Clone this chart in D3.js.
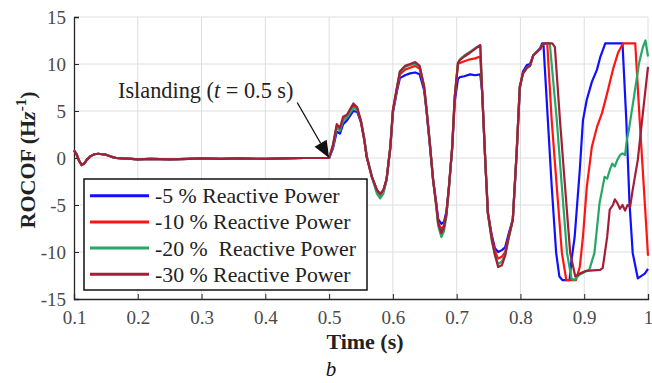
<!DOCTYPE html>
<html>
<head>
<meta charset="utf-8">
<script src="https://cdn.jsdelivr.net/npm/d3@7"></script>
<style>
  body { margin: 0; background: #fff; }
  svg text { font-family: "Liberation Serif", "Times New Roman", serif; }
</style>
</head>
<body>
<svg id="grafico" width="652" height="383"></svg>
<script>
// tiempo antes de la isla (igual en las 4 curvas)
const tPre = [0.100, 0.104, 0.108, 0.112, 0.116, 0.120, 0.126, 0.132, 0.138, 0.144, 0.150, 0.158, 0.166, 0.175,
  0.190, 0.200, 0.220, 0.250, 0.280, 0.300, 0.330, 0.360, 0.400, 0.430, 0.460, 0.480, 0.500];
const vPre = [0.8, 0.4, -0.3, -0.75, -0.6, -0.2, 0.2, 0.4, 0.45, 0.4, 0.35, 0.15, 0.0, -0.05,
  -0.1, -0.15, -0.1, -0.15, -0.1, -0.05, -0.1, -0.05, -0.1, -0.05, 0.0, 0.0, 0.0];

// oscilaciones despues de la isla
const tMid = [0.506, 0.512, 0.517, 0.522, 0.528, 0.533, 0.538, 0.544, 0.550, 0.555, 0.559, 0.567, 0.575, 0.580,
  0.585, 0.590, 0.596, 0.600, 0.606, 0.611, 0.619, 0.627, 0.635, 0.642, 0.649, 0.653, 0.658, 0.663, 0.668,
  0.671, 0.676, 0.680, 0.684, 0.688, 0.693, 0.697, 0.702, 0.705, 0.712, 0.721, 0.729, 0.737, 0.740, 0.745,
  0.749, 0.755, 0.760, 0.765, 0.771, 0.776, 0.781, 0.788, 0.794, 0.799, 0.804, 0.810, 0.815, 0.820, 0.826,
  0.831, 0.834];
const mid5 = [1.0, 2.8, 2.6, 3.6, 4.0, 4.5, 5.0, 4.9, 3.8, 2.0, 0.1, -2.0, -3.5, -3.9,
  -3.5, -2.3, 1.0, 4.8, 7.0, 8.5, 8.8, 9.0, 9.1, 8.9, 7.2, 4.8, 1.3, -2.3, -4.8,
  -6.5, -7.0, -6.8, -5.7, -3.0, 1.0, 6.0, 8.4, 8.6, 8.7, 8.9, 8.8, 8.9, 7.0, -0.5,
  -5.8, -8.2, -9.6, -10.0, -9.8, -9.5, -8.2, -6.5, 0.5, 7.4, 9.2, 9.9, 10.0, 10.9, 11.3,
  11.7, 12.2];
const mid10 = [1.3, 3.4, 3.0, 4.0, 4.5, 5.0, 5.6, 5.2, 3.8, 2.0, 0.1, -2.0, -3.4, -3.9,
  -3.5, -2.3, 1.2, 5.0, 7.2, 8.9, 9.4, 9.6, 9.8, 9.5, 7.5, 5.0, 1.5, -2.3, -5.0,
  -6.9, -7.6, -7.2, -5.9, -3.0, 1.2, 6.5, 10.0, 10.1, 10.3, 10.5, 10.6, 10.8, 7.0, -0.5,
  -5.9, -8.4, -9.9, -10.7, -10.5, -10.0, -8.5, -6.6, 0.5, 7.6, 9.0, 9.6, 9.8, 10.9, 11.3,
  11.6, 12.0];
const mid20 = [1.2, 3.3, 2.9, 4.0, 4.3, 4.8, 5.3, 5.2, 4.0, 2.2, 0.3, -2.0, -3.8, -4.3,
  -3.8, -2.4, 1.2, 5.0, 7.3, 9.2, 9.7, 9.9, 10.0, 9.7, 7.6, 5.1, 1.6, -2.3, -5.2,
  -7.2, -8.4, -7.8, -6.2, -3.2, 1.2, 6.5, 10.1, 10.5, 10.9, 11.3, 11.7, 12.0, 7.0, -0.5,
  -6.0, -8.8, -10.3, -11.3, -11.0, -10.3, -8.7, -6.6, 0.5, 7.6, 9.0, 9.6, 9.8, 10.9, 11.3,
  11.6, 12.0];
const mid30 = [1.4, 3.6, 3.2, 4.4, 4.6, 5.2, 5.8, 5.4, 3.9, 2.0, 0.1, -2.0, -3.4, -3.8,
  -3.4, -2.3, 1.2, 5.1, 7.4, 9.2, 9.8, 10.0, 10.2, 9.8, 7.6, 5.0, 1.5, -2.3, -5.0,
  -6.9, -8.0, -7.4, -5.9, -3.0, 1.2, 6.5, 10.1, 10.4, 10.8, 11.2, 11.6, 12.0, 7.0, -0.5,
  -5.9, -8.6, -10.3, -11.6, -11.4, -10.4, -8.6, -6.6, 0.5, 7.6, 9.0, 9.6, 9.8, 10.9, 11.3,
  11.6, 12.0];

// tramo final, cada curva por separado
const tEnd5 = [0.836, 0.843, 0.849, 0.856, 0.861, 0.866, 0.877, 0.880, 0.885, 0.893, 0.898, 0.904, 0.912,
  0.920, 0.925, 0.933, 0.960, 0.966, 0.971, 0.976, 0.984, 0.995, 1.000];
const end5 = [12.2, 4.0, -3.0, -10.1, -12.6, -13.0, -13.0, -10.9, -8.4, -1.3, 4.0, 6.2, 8.1,
  9.4, 10.7, 12.2, 12.2, 4.0, -4.8, -10.1, -12.8, -12.3, -11.8];
const tEnd10 = [0.838, 0.842, 0.849, 0.857, 0.865, 0.872, 0.887, 0.893, 0.898, 0.904, 0.912, 0.920, 0.928,
  0.936, 0.945, 0.953, 0.961, 0.980, 0.987, 0.995, 1.000];
const end10 = [12.2, 12.2, 4.0, -3.1, -10.1, -13.0, -13.0, -11.6, -8.4, -3.1, 1.2, 3.3, 4.8,
  6.9, 9.4, 11.2, 12.2, 12.2, 4.0, -4.8, -10.4];
const tEnd20 = [0.838, 0.846, 0.857, 0.865, 0.873, 0.880, 0.884, 0.893, 0.908, 0.916, 0.924, 0.932, 0.936,
  0.940, 0.944, 0.948, 0.952, 0.956, 0.960, 0.964, 0.967, 0.970, 0.978, 0.986, 0.992, 0.996, 1.000];
const end20 = [12.2, 12.2, 4.0, -3.1, -10.1, -12.8, -13.0, -12.4, -11.9, -10.1, -4.8, -2.0, -2.2,
  -1.3, -0.6, -0.9, -0.2, 0.3, 0.5, 0.3, 2.0, 3.0, 6.5, 10.1, 11.8, 12.5, 10.8];
const tEnd30 = [0.838, 0.850, 0.854, 0.862, 0.870, 0.878, 0.886, 0.893, 0.903, 0.925, 0.929, 0.936, 0.940,
  0.945, 0.948, 0.952, 0.956, 0.960, 0.964, 0.968, 0.972, 0.976, 0.984, 0.992, 1.000];
const end30 = [12.2, 12.2, 11.8, 4.0, -3.1, -10.1, -12.6, -12.3, -12.0, -11.9, -11.7, -8.4, -5.5,
  -5.0, -4.4, -4.8, -5.4, -5.0, -5.6, -5.0, -5.2, -3.4, -0.2, 4.8, 9.7];

const etiquetas = ["-5 % Reactive Power", "-10 % Reactive Power", "-20 %  Reactive Power", "-30 % Reactive Power"];
const colores = ["#1010ff", "#ff1414", "#26a764", "#a31f38"];
const xTicks = [0.1, 0.2, 0.3, 0.4, 0.5, 0.6, 0.7, 0.8, 0.9, 1];
const yTicks = [-15, -10, -5, 0, 5, 10, 15];

const serif = "'Liberation Serif', 'Times New Roman', serif";
const svg = d3.select("#grafico");
const m = { left: 74, right: 648, top: 17, bottom: 299 };

const x = d3.scaleLinear().domain([0.1, 1]).range([m.left, m.right]);
const y = d3.scaleLinear().domain([-15, 15]).range([m.bottom, m.top]);

function armarSerie(vMid, tEnd, vEnd) {
  const pre = tPre.map((t, i) => [t, vPre[i]]);
  const med = tMid.map((t, i) => [t, vMid[i]]);
  const fin = tEnd.map((t, i) => [t, vEnd[i]]);
  return pre.concat(med, fin);
}

const series = [
  armarSerie(mid5, tEnd5, end5),
  armarSerie(mid10, tEnd10, end10),
  armarSerie(mid20, tEnd20, end20),
  armarSerie(mid30, tEnd30, end30)
];

// rejilla
svg.append("g")
  .selectAll("line")
  .data(xTicks.slice(1))
  .enter().append("line")
  .attr("x1", d => x(d)).attr("x2", d => x(d))
  .attr("y1", m.top).attr("y2", m.bottom)
  .attr("stroke", "#dedede").attr("stroke-width", 1);

svg.append("g")
  .selectAll("line")
  .data(yTicks.slice(1))
  .enter().append("line")
  .attr("x1", m.left).attr("x2", m.right)
  .attr("y1", d => y(d)).attr("y2", d => y(d))
  .attr("stroke", "#dedede").attr("stroke-width", 1);

// ejes
const ejeX = svg.append("g")
  .attr("transform", `translate(0,${m.bottom})`)
  .call(d3.axisBottom(x).tickValues(xTicks).tickSize(-5).tickPadding(12).tickFormat(d => String(d)));
const ejeY = svg.append("g")
  .attr("transform", `translate(${m.left},0)`)
  .call(d3.axisLeft(y).tickValues(yTicks).tickSize(-5).tickPadding(8).tickFormat(d => String(d)));

[ejeX, ejeY].forEach(g => {
  g.attr("font-family", null);
  g.select(".domain").attr("stroke", "#262626").attr("stroke-width", 1.3);
  g.selectAll(".tick line").attr("stroke", "#262626");
  g.selectAll(".tick text")
    .style("font-family", serif)
    .style("font-size", "19px")
    .attr("fill", "#4a4a4a");
});

// curvas
const linea = d3.line().x(d => x(d[0])).y(d => y(d[1]));

svg.append("g")
  .selectAll("path")
  .data(series)
  .enter().append("path")
  .attr("d", linea)
  .attr("fill", "none")
  .attr("stroke", (d, i) => colores[i])
  .attr("stroke-width", 2.2)
  .attr("stroke-linejoin", "round");

// leyenda
const ley = svg.append("g");
ley.append("rect")
  .attr("x", 84).attr("y", 179)
  .attr("width", 283).attr("height", 111)
  .attr("fill", "#fff").attr("stroke", "#111").attr("stroke-width", 1.5);

etiquetas.forEach((txt, i) => {
  const yy = 195.7 + i * 26.2;
  ley.append("line")
    .attr("x1", 90).attr("x2", 149)
    .attr("y1", yy).attr("y2", yy)
    .attr("stroke", colores[i]).attr("stroke-width", 3);
  ley.append("text")
    .attr("x", 155).attr("y", yy + 7.5)
    .style("font-family", serif)
    .style("font-size", "21.8px")
    .style("white-space", "pre")
    .attr("fill", "#222")
    .text(txt);
});

// anotacion de la isla
const tipX = x(0.5), tipY = y(0);
const iniX = x(0.45), iniY = y(5.9);
const ang = Math.atan2(tipY - iniY, tipX - iniX);
const largo = 17, ancho = 7;
const bx = tipX - largo * Math.cos(ang), by = tipY - largo * Math.sin(ang);

svg.append("line")
  .attr("x1", iniX).attr("y1", iniY)
  .attr("x2", bx).attr("y2", by)
  .attr("stroke", "#111").attr("stroke-width", 1.3);

svg.append("path")
  .attr("d", d3.line()([
    [tipX, tipY],
    [bx + ancho * Math.sin(ang), by - ancho * Math.cos(ang)],
    [bx - ancho * Math.sin(ang), by + ancho * Math.cos(ang)]
  ]) + "Z")
  .attr("fill", "#111");

const nota = svg.append("text")
  .attr("x", 118).attr("y", 98)
  .style("font-family", serif)
  .style("font-size", "22.3px")
  .style("white-space", "pre")
  .attr("fill", "#222");
nota.append("tspan").text("Islanding (");
nota.append("tspan").attr("font-style", "italic").text("t");
nota.append("tspan").text(" = 0.5 s)");

// titulos de ejes
const tituloY = svg.append("text")
  .attr("transform", "translate(35,160) rotate(-90)")
  .attr("text-anchor", "middle")
  .style("font-family", serif)
  .style("font-size", "22px")
  .attr("font-weight", "bold")
  .attr("fill", "#222");
tituloY.append("tspan").text("ROCOF (H");
tituloY.append("tspan").text("z").attr("font-style", "italic");
tituloY.append("tspan").text("-1").style("font-size", "15px").attr("dy", -9);
tituloY.append("tspan").text(")").attr("dy", 9);

svg.append("text")
  .attr("x", 365).attr("y", 349)
  .attr("text-anchor", "middle")
  .style("font-family", serif)
  .style("font-size", "22px")
  .attr("font-weight", "bold")
  .attr("fill", "#222")
  .text("Time (s)");

svg.append("text")
  .attr("x", 331).attr("y", 376)
  .attr("text-anchor", "middle")
  .style("font-family", serif)
  .style("font-size", "21px")
  .attr("font-style", "italic")
  .attr("fill", "#111")
  .text("b");
</script>
</body>
</html>
